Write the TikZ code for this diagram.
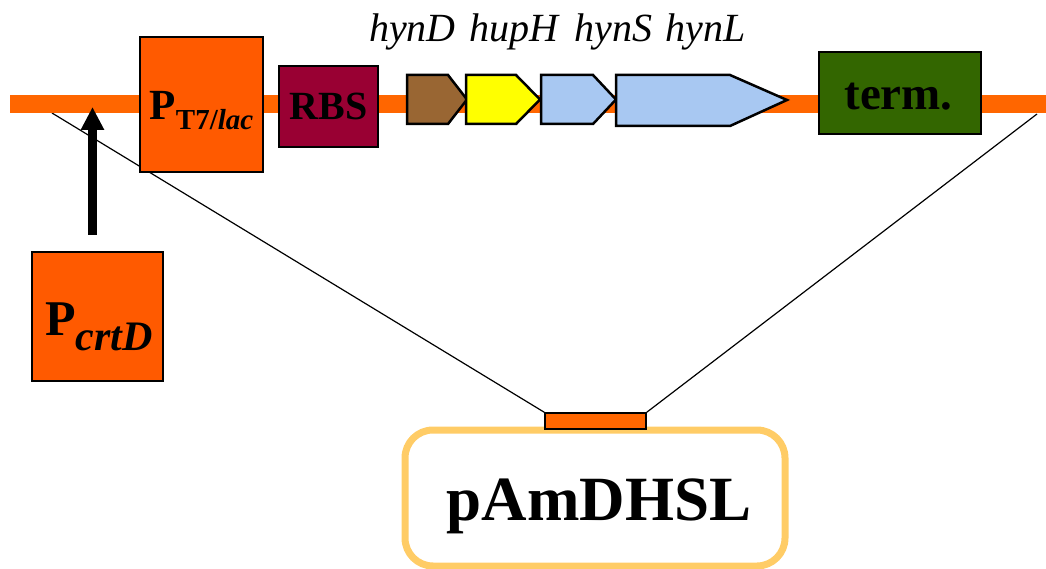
\documentclass[tikz,border=0pt]{standalone}
\usepackage{fontspec}
\setmainfont{Liberation Serif}
\usetikzlibrary{arrows.meta}
\definecolor{backbone}{HTML}{FF6600}
\definecolor{promoter}{HTML}{FF5A00}
\definecolor{rbscol}{HTML}{990033}
\definecolor{termcol}{HTML}{336600}
\definecolor{genebrown}{HTML}{996633}
\definecolor{geneyellow}{HTML}{FFFF00}
\definecolor{geneblue}{HTML}{A8C8F2}
\definecolor{plasmidcol}{HTML}{FFCC66}
\newcommand\myfs[1]{\fontsize{#1}{#1}\selectfont}
\begin{document}
\begin{tikzpicture}[x=1pt,y=-1pt,
  partbox/.style={draw=black, line width=1.5pt, inner sep=0pt},
  gene/.style={draw=black, line width=2.5pt, line join=miter},
  lbl/.style={anchor=base, inner sep=0pt, font=\bfseries}]
\useasboundingbox (0,0) rectangle (1046,569);

% connector lines (behind)
\coordinate (bbL) at (52,113);
\coordinate (bbR) at (1037,114);
\node[draw=black, line width=1.5pt, fill=backbone, inner sep=0pt,
      minimum width=101pt, minimum height=16pt] (insert) at (595.5,421) {};
\draw[line width=1.2pt] (bbL) -- (insert.north west);
\draw[line width=1.2pt] (bbR) -- (insert.north east);

% backbone
\coordinate (bbstart) at (10,104);
\coordinate (bbend) at (1046,104);
\draw[backbone, line width=18pt] (bbstart) -- (bbend);

% promoter T7/lac
\node[partbox, fill=promoter, minimum width=123pt, minimum height=135pt] (pt7) at (201.5,104.5) {};
\node[lbl] (pt7txt) at (201.5,120) {\myfs{43}P\raisebox{-10pt}{\myfs{29}T7/\textit{lac}}};

% RBS
\node[partbox, fill=rbscol, minimum width=99pt, minimum height=81pt] (rbs) at (328.5,106.5) {};
\node[lbl] (rbstxt) at (328.5,120) {\myfs{40}RBS};

% genes
\draw[gene, fill=genebrown] (407,75) -- (448,75) -- (467,99.5) -- (448,124) -- (407,124) -- cycle;
\draw[gene, fill=geneyellow] (466,75) -- (516,75) -- (540,99.5) -- (516,124) -- (466,124) -- cycle;
\draw[gene, fill=geneblue] (541,75) -- (593,75) -- (616,99.5) -- (593,124) -- (541,124) -- cycle;
\draw[gene, fill=geneblue] (616,75) -- (730,75) -- (787,100) -- (730,126) -- (616,126) -- cycle;

\node[anchor=base west, inner sep=0pt] (genes) at (369,42)
  {\myfs{40}\itshape hynD\hspace{14pt}hupH\hspace{16pt}hynS\hspace{13pt}hynL};

% terminator
\node[partbox, fill=termcol, minimum width=162pt, minimum height=82pt] (term) at (900,93) {};
\node[lbl] (termtxt) at (898.5,110) {\myfs{47}term.};

% promoter crtD
\node[partbox, fill=promoter, minimum width=131pt, minimum height=129pt] (pcrt) at (97.5,316.5) {};
\node[lbl] (pcrttxt) at (99,335) {\myfs{50}P\raisebox{-15pt}{\myfs{42}\textit{crtD}}};

% arrow from crtD promoter to backbone
\coordinate (arrbase) at (92.5,235);
\coordinate (arrtip) at (92.5,107);
\draw[line width=9pt, -{Triangle[width=22pt,length=23pt]}] (arrbase) -- (arrtip);

% plasmid
\node[draw=plasmidcol, line width=7pt, rounded corners=28pt, fill=white,
      minimum width=380pt, minimum height=136pt] (plasmid) at (595,498) {};
\node[draw=black, line width=1.5pt, fill=backbone, inner sep=0pt,
      minimum width=101pt, minimum height=16pt] at (insert) {};
\node[lbl] (plasmidtxt) at (599,520) {\myfs{63}pAmDHSL};
\end{tikzpicture}
\end{document}
